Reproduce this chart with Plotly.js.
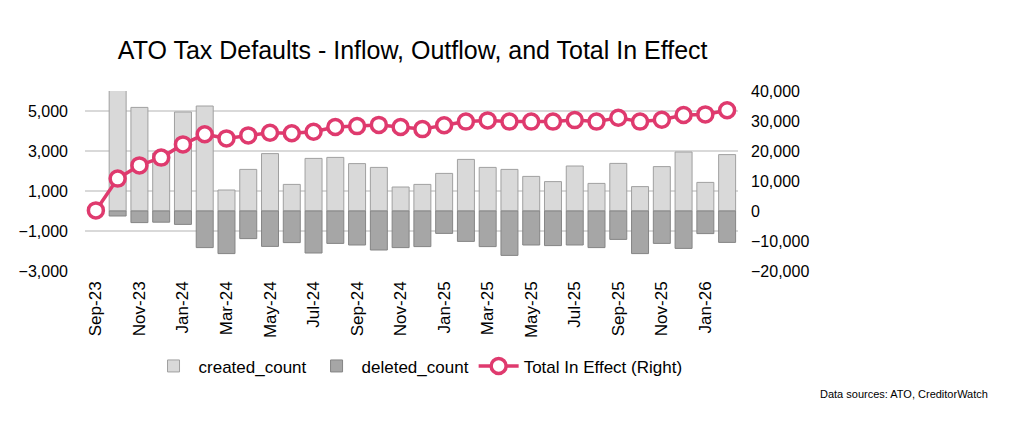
<!DOCTYPE html>
<html>
<head>
<meta charset="utf-8">
<script src="https://cdn.plot.ly/plotly-3.0.1.min.js"></script>
<style>html,body{margin:0;padding:0;background:#fff;}#chart{width:1024px;height:422px;}</style>
</head>
<body>
<div id="chart"></div>
<script>
const months = ["Sep-23","Oct-23","Nov-23","Dec-23","Jan-24","Feb-24","Mar-24","Apr-24","May-24","Jun-24","Jul-24","Aug-24","Sep-24","Oct-24","Nov-24","Dec-24","Jan-25","Feb-25","Mar-25","Apr-25","May-25","Jun-25","Jul-25","Aug-25","Sep-25","Oct-25","Nov-25","Dec-25","Jan-26","Feb-26"];
const createdCount = [0,11100,5180,2900,4950,5250,1050,2080,2870,1330,2630,2680,2370,2180,1200,1330,1880,2580,2180,2080,1730,1470,2250,1380,2380,1220,2220,2950,1430,2820];
const deletedCount = [0,-250,-580,-560,-670,-1830,-2130,-1380,-1770,-1580,-2100,-1620,-1700,-1950,-1830,-1780,-1120,-1520,-1780,-2220,-1700,-1730,-1700,-1830,-1420,-2130,-1620,-1870,-1130,-1570];
const totalInEffect = [200,10800,15200,17800,22200,25600,24200,25200,26100,25900,26400,28000,28300,28700,28000,27300,28600,29800,30200,29800,29800,29800,30300,29800,31100,29800,30400,32000,32200,33600];
const tickMonths = months.filter((m, i) => i % 2 === 0);

const sans = "Liberation Sans, Arial, sans-serif";

const traces = [
  {type:"bar", name:"created_count", x:months, y:createdCount,
   marker:{color:"#d9d9d9", line:{color:"#a0a0a0", width:1}}, yaxis:"y"},
  {type:"bar", name:"deleted_count", x:months, y:deletedCount,
   marker:{color:"#a6a6a6", line:{color:"#858585", width:1}}, yaxis:"y"},
  {type:"scatter", mode:"lines+markers", name:"Total In Effect (Right)", x:months, y:totalInEffect,
   yaxis:"y2", line:{color:"#df3a6e", width:3.5},
   marker:{symbol:"circle", size:15, color:"#ffffff", line:{color:"#df3a6e", width:3.5}}}
];

const layout = {
  width:1024, height:422,
  margin:{l:85, r:286, t:91, b:151},
  paper_bgcolor:"#ffffff", plot_bgcolor:"#ffffff",
  barmode:"relative", bargap:0.22,
  showlegend:true,
  title:{text:"ATO Tax Defaults - Inflow, Outflow, and Total In Effect",
         font:{family:sans, size:25, color:"#000"},
         x:0.403, xanchor:"center", y:0.88, yanchor:"middle"},
  xaxis:{type:"category", tickmode:"array", tickvals:tickMonths, ticktext:tickMonths,
         tickangle:-90, tickfont:{family:sans, size:17, color:"#000"},
         showgrid:false, zeroline:false, showline:false, ticks:"", ticklen:0,
         ticklabelstandoff:6,
         range:[-0.5, months.length-0.5]},
  yaxis:{range:[-3000,6000], tickmode:"linear", tick0:-3000, dtick:2000,
         tickformat:",d", tickfont:{family:sans, size:16, color:"#000"},
         showgrid:true, gridcolor:"#d9d9d9", gridwidth:1.5, zeroline:false, showline:false,
         ticks:"", ticklabelstandoff:16},
  yaxis2:{range:[-20000,40000], tickmode:"linear", tick0:-20000, dtick:10000,
          tickformat:",d", tickfont:{family:sans, size:16, color:"#000"},
          overlaying:"y", side:"right", showgrid:false, zeroline:false, showline:false,
          ticks:"", ticklabelstandoff:12},
  legend:{orientation:"h", x:0.51, xanchor:"center", y:-0.53, yanchor:"middle",
          font:{family:sans, size:17, color:"#000"}, itemwidth:40, traceorder:"normal"},
  annotations:[{text:"Data sources: ATO, CreditorWatch", xref:"paper", yref:"paper",
                x:1.386, xanchor:"right", y:-0.685, yanchor:"middle", showarrow:false,
                font:{family:sans, size:11, color:"#000"}}]
};

Plotly.newPlot("chart", traces, layout, {displayModeBar:false, staticPlot:true});
</script>
</body>
</html>
